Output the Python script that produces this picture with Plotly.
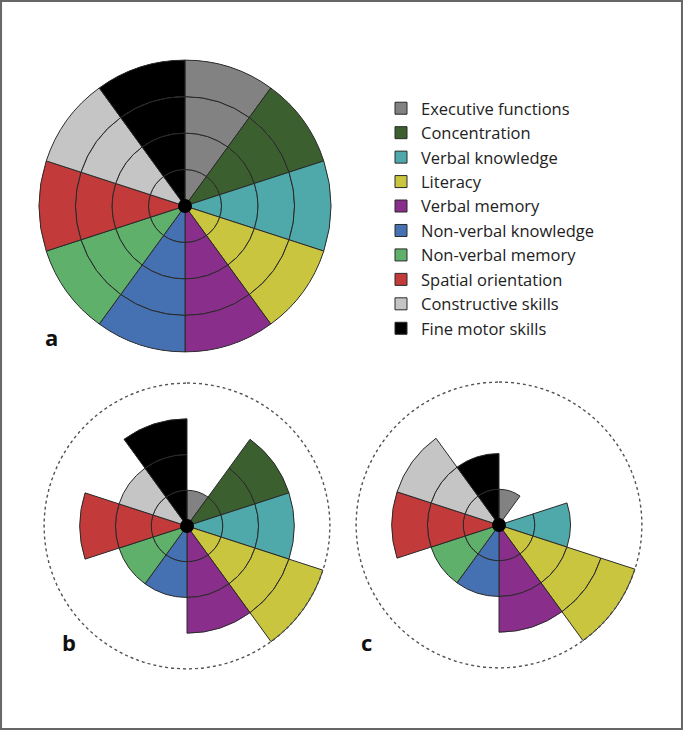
import numpy as np
import plotly.graph_objects as go

# ── Data ─────────────────────────────────────────────────────────────────────

DOMAINS = [
    "Executive functions", "Concentration", "Verbal knowledge", "Literacy",
    "Verbal memory", "Non-verbal knowledge", "Non-verbal memory",
    "Spatial orientation", "Constructive skills", "Fine motor skills",
]
COLORS = [
    "#828282", "#3c5f2f", "#4fa9aa", "#c9c53e", "#8a2e8b",
    "#4571b3", "#5fb06a", "#c23b3a", "#c5c5c5", "#000000",
]
SCORES_A = [4, 4, 4, 4, 4, 4, 4, 4, 4, 4]
SCORES_B = [1, 3, 3, 4, 3, 2, 2, 3, 2, 3]
SCORES_C = [1, 0, 2, 4, 3, 2, 2, 3, 3, 2]
MAX_SCORE = 4
PANEL_LABELS = ["a", "b", "c"]

FONT = "Open Sans"
SECTOR = 360 / len(DOMAINS)


def px_domain(x0, x1, y0, y1, w=683, h=730):
    return dict(x=[x0 / w, x1 / w], y=[1 - y1 / h, 1 - y0 / h])


fig = go.Figure()

panels = [("polar", SCORES_A, False), ("polar2", SCORES_B, True), ("polar3", SCORES_C, True)]

for p_idx, (sub, scores, dashed) in enumerate(panels):
    for i, (name, color, val) in enumerate(zip(DOMAINS, COLORS, scores)):
        theta = SECTOR / 2 + SECTOR * i
        fig.add_trace(go.Barpolar(
            r=[1] * val, base=list(range(val)), theta=[theta] * val,
            width=[SECTOR] * val,
            name=name, legendgroup=name, showlegend=(p_idx == 0),
            marker=dict(color=color, line=dict(color="#2a2a2a", width=1)),
            subplot=sub,
        ))
    if dashed:
        ring = np.linspace(0, 360, 181)
        fig.add_trace(go.Scatterpolar(
            r=[MAX_SCORE] * len(ring), theta=ring, mode="lines",
            line=dict(color="#555555", width=1.5, dash="dot"),
            showlegend=False, hoverinfo="skip", subplot=sub,
        ))
    fig.add_trace(go.Scatterpolar(
        r=[0], theta=[0], mode="markers",
        marker=dict(color="black", size=14),
        showlegend=False, hoverinfo="skip", subplot=sub,
    ))

polar_style = dict(
    bgcolor="white",
    barmode="overlay",
    radialaxis=dict(visible=False, range=[0, MAX_SCORE + 0.03]),
    angularaxis=dict(visible=False, rotation=90, direction="clockwise"),
)

fig.update_layout(
    width=683, height=730,
    paper_bgcolor="white", plot_bgcolor="white",
    margin=dict(l=0, r=0, t=0, b=0),
    font=dict(family=FONT, color="#222222"),
    polar=dict(domain=px_domain(38, 332, 59, 353), **polar_style),
    polar2=dict(domain=px_domain(43, 331, 382, 670), **polar_style),
    polar3=dict(domain=px_domain(355, 643, 381, 669), **polar_style),
    legend=dict(
        x=381 / 683, y=1 - 91 / 730, xanchor="left", yanchor="top",
        font=dict(size=16.5, family=FONT, color="#222222"),
        traceorder="normal", tracegroupgap=0,
        bgcolor="rgba(0,0,0,0)",
    ),
    showlegend=True,
)

for label, (lx, ly) in zip(PANEL_LABELS, [(43, 337), (60, 659), (366, 659)]):
    fig.add_annotation(
        x=lx / 683, y=1 - ly / 730, xref="paper", yref="paper",
        text=f"<b>{label}</b>", showarrow=False,
        font=dict(size=22, family=FONT, color="#111111"),
    )

# outer frame
fig.add_shape(
    type="rect", xref="paper", yref="paper",
    x0=0.0015, y0=0.0015, x1=0.9985, y1=0.9985,
    line=dict(color="#666666", width=2),
)

fig.write_html(
    "out.html",
    config={"displayModeBar": False},
    post_script="document.body.style.margin='0';document.body.style.overflow='hidden';",
)
